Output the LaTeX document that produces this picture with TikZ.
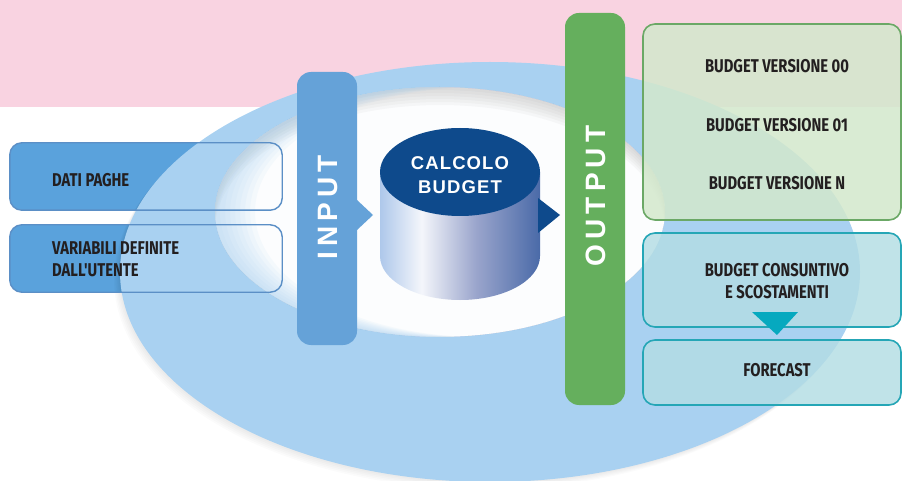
\documentclass[tikz,border=0pt]{standalone}
\usepackage{fontspec}
\newfontfamily\labfont[FakeStretch=0.8]{Fira Sans}
\newfontfamily\barfont[LetterSpace=18]{Liberation Sans}
\newfontfamily\cylfont[LetterSpace=6]{Liberation Sans}
\definecolor{pinkbg}{HTML}{F9D3E1}
\definecolor{ringblue}{HTML}{A9D1F1}
\definecolor{leftfill}{HTML}{5AA2DC}
\definecolor{leftline}{HTML}{5B8FC6}
\definecolor{inputblue}{HTML}{65A2D8}
\definecolor{cylA}{HTML}{5D92D4}
\definecolor{cylB}{HTML}{93B6E4}
\definecolor{cylW}{HTML}{F4F6FB}
\definecolor{cylC}{HTML}{9AA5CC}
\definecolor{cylD}{HTML}{4A6AA8}
\definecolor{cylE}{HTML}{0F4A8E}
\definecolor{cyltop}{HTML}{0E4A8C}
\definecolor{greenbar}{HTML}{65AF5D}
\definecolor{greenfill}{HTML}{D3E8CC}
\definecolor{greenline}{HTML}{6BA866}
\definecolor{tealfill}{HTML}{B3DDE4}
\definecolor{tealline}{HTML}{25A6B6}
\definecolor{tealtri}{HTML}{06A9BF}
\definecolor{textdark}{HTML}{231F20}
\pgfdeclarehorizontalshading{cylshade}{100bp}{color(0bp)=(cylA); color(20bp)=(cylB); color(38bp)=(cylW); color(55bp)=(cylC); color(75bp)=(cylD); color(100bp)=(cylE)}
\tikzset{
  leftbox/.style={rectangle, rounded corners=12pt, fill=leftfill, minimum width=272pt, inner sep=0pt},
  boxline/.style={draw=leftline, line width=1.4pt, rounded corners=12pt},
  bar/.style={rectangle, rounded corners=14pt, minimum width=60pt, inner sep=0pt},
  bartext/.style={rotate=90, text=white, font=\barfont\bfseries\fontsize{28}{28}\selectfont},
  lab/.style={text=textdark, font=\labfont\bfseries\fontsize{18.5}{22}\selectfont, inner sep=0pt},
  greenbox/.style={rectangle, rounded corners=12pt, draw=greenline, line width=1.6pt, fill=greenfill, fill opacity=0.85, minimum width=258pt, inner sep=0pt},
  tealbox/.style={rectangle, rounded corners=12pt, draw=tealline, line width=1.6pt, fill=tealfill, fill opacity=0.82, minimum width=258pt, inner sep=0pt}
}
\begin{document}
\begin{tikzpicture}[x=1pt,y=-1pt]
\useasboundingbox (0,0) rectangle (902,481);
\fill[white] (0,0) rectangle (902,481);
\fill[pinkbg] (0,0) rectangle (902,107);
% left boxes (fill, under the ring)
\node[leftbox, minimum height=67pt] (dati) at (146,176.5) {};
\node[leftbox, minimum height=67pt] (vari) at (146,258.5) {};
% ring shadow
\foreach \i in {1,...,5}
  \fill[black, opacity=0.015] (490-1.2*\i,272+1.4*\i) ellipse [x radius=370, y radius=210];
% ring
\fill[ringblue] (490,272) ellipse [x radius=370, y radius=210];
% hole
\fill[white, opacity=0.97] (440,212) ellipse [x radius=225, y radius=125];
\begin{scope}
  \clip (440,212) ellipse [x radius=225, y radius=125];
  \foreach \i in {1,...,6}
    \fill[black!35, opacity=0.075, even odd rule] (440,212) ellipse [x radius=225, y radius=125] (440,212+3*\i) ellipse [x radius=225, y radius=125];
  \foreach \i in {1,...,8}
    \fill[ringblue, opacity=0.09, even odd rule] (440,212) ellipse [x radius=225, y radius=125] (440+5*\i,212) ellipse [x radius=225, y radius=125];
\end{scope}
% left box outlines
\draw[boxline] (dati.south west) rectangle (dati.north east);
\draw[boxline] (vari.south west) rectangle (vari.north east);
\node[lab, anchor=west] (datit) at (52,180) {DATI PAGHE};
\node[lab, anchor=west, align=left] (varit) at (52,259) {VARIABILI DEFINITE\\DALL'UTENTE};
% input bar
\node[bar, fill=inputblue, minimum height=273pt] (input) at (327,208.5) {};
\fill[inputblue] (357,200) -- (373,215) -- (357,230) -- cycle;
\node[bartext] (inputt) at (328,207) {INPUT};
% cylinder
\shade[shading=cylshade] (380,172) -- (380,256) arc [start angle=180, end angle=0, x radius=80, y radius=44] -- (540,172) -- cycle;
\fill[cyltop] (460,172) ellipse [x radius=80, y radius=44];
\fill[cyltop] (538,198) -- (560,215) -- (538,233) -- cycle;
\node[text=white, align=center, font=\cylfont\bfseries\fontsize{18.5}{24}\selectfont] (calc) at (460,175) {CALCOLO\\BUDGET};
% output bar
\node[bar, fill=greenbar, minimum height=392pt] (output) at (595,209) {};
\node[bartext] (outputt) at (596,196) {OUTPUT};
% output boxes
\node[greenbox, minimum height=196pt] (vers) at (772,122) {};
\node[tealbox, minimum height=94pt] (cons) at (772,280) {};
\node[tealbox, minimum height=65pt] (fore) at (772,372.5) {};
\fill[tealtri] (752,312) -- (798,312) -- (777,335) -- cycle;
\node[lab] (v00) at (777,66) {BUDGET VERSIONE 00};
\node[lab] (v01) at (777,125) {BUDGET VERSIONE 01};
\node[lab] (vn) at (777,183) {BUDGET VERSIONE N};
\node[lab, align=center] (const) at (777,281) {BUDGET CONSUNTIVO\\E SCOSTAMENTI};
\node[lab] (foret) at (777,370) {FORECAST};
\end{tikzpicture}
\end{document}
